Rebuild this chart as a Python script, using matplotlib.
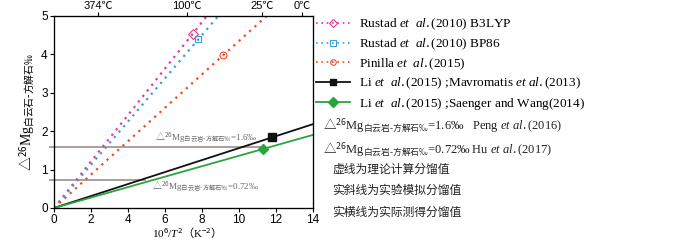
"""Mg isotope fractionation between dolomite and calcite vs 10^6/T^2."""
import matplotlib
matplotlib.use("Agg")
import matplotlib.pyplot as plt
from matplotlib.lines import Line2D
import numpy as np

plt.rcParams["font.family"] = ["Liberation Serif", "Noto Sans CJK SC", "DejaVu Sans"]
plt.rcParams["mathtext.fontset"] = "custom"
plt.rcParams["mathtext.rm"] = "Noto Sans CJK SC"
plt.rcParams["mathtext.it"] = "Liberation Serif:italic"
plt.rcParams["mathtext.bf"] = "Liberation Serif:bold"

DELTA = r"$\mathrm{△}^{26}$Mg"

# theoretical (dotted) lines: slope of delta vs 10^6/T^2, plus marker point
theory_labels = [
    r"Rustad $\it{et\ \ al.}$(2010) B3LYP",
    r"Rustad $\it{et\ \ al.}$(2010) BP86",
    r"Pinilla $\it{et\ \ al.}$(2015)",
]
theory_slopes = [0.605, 0.563, 0.435]
theory_marker_x = [7.5, 7.8, 9.15]
theory_colors = ["#e8358f", "#3b9fd6", "#f04a25"]
theory_markers = ["D", "s", "o"]

# experimental (solid) lines
exp_labels = [
    r"Li $\it{et\ \ al.}$(2015) ;Mavromatis $\it{et\ al.}$(2013)",
    r"Li $\it{et\ \ al.}$(2015) ;Saenger and Wang(2014)",
]
exp_slopes = [0.156, 0.136]
exp_marker_x = [11.77, 11.28]
exp_colors = ["#111111", "#2aa43c"]
exp_markers = ["s", "D"]

# measured values (horizontal lines)
measured_vals = [1.6, 0.72]
measured_xmax = [11.2, 4.9]
measured_text = [
    DELTA + r"$_{\mathrm{白云岩\text{-}方解石‰}}$=1.6‰",
    DELTA + r"$_{\mathrm{白云岩\text{-}方解石‰}}$=0.72‰",
]
measured_text_xy = [(5.45, 1.66), (5.3, 0.57)]

top_temps_c = [374, 100, 25, 0]

notes = [
    DELTA + r"$_{\mathrm{白云岩\text{-}方解石‰}}$=1.6‰   Peng $\it{et\ al.}$(2016)",
    DELTA + r"$_{\mathrm{白云岩\text{-}方解石‰}}$=0.72‰ Hu $\it{et\ al.}$(2017)",
    "虚线为理论计算分馏值",
    "实斜线为实验模拟分馏值",
    "实横线为实际测得分馏值",
]

fig = plt.figure(figsize=(7, 2.4), dpi=100)
ax = fig.add_axes([54 / 700, 32 / 240, 259 / 700, 192 / 240])

handles = []
for lab, k, mx, c, m in zip(theory_labels, theory_slopes, theory_marker_x,
                            theory_colors, theory_markers):
    xs = np.array([0.0, 5.0 / k])
    ax.plot(xs, k * xs, color=c, ls=(0, (1, 2.2)), lw=1.6)
    ax.plot([mx], [k * mx], marker=m, ms=5, mfc="none", mec=c, mew=0.8, ls="none")
    handles.append(Line2D([], [], color=c, ls=(0, (1, 2.2)), lw=1.2,
                          marker=m, ms=4, mfc="none", mec=c, mew=0.8, label=lab))

for lab, k, mx, c, m in zip(exp_labels, exp_slopes, exp_marker_x,
                            exp_colors, exp_markers):
    xs = np.array([0.0, 14.0])
    ax.plot(xs, k * xs, color=c, lw=1.3)
    ax.plot([mx], [k * mx], marker=m, ms=5.5, color=c, ls="none")
    handles.append(Line2D([], [], color=c, lw=1.3, marker=m, ms=5, label=lab))

for v, xm, txt, (tx, ty) in zip(measured_vals, measured_xmax, measured_text,
                                measured_text_xy):
    ax.plot([-0.2, xm], [v, v], color="#a09893", lw=1.3, clip_on=False, zorder=1)
    ax.text(tx, ty, txt, fontsize=6.5, color="#6a6a6a", va="bottom" if v > 1 else "center")

ax.set_xlim(0, 14)
ax.set_ylim(0, 5)
ax.set_xticks(np.arange(0, 15, 2))
ax.set_yticks(np.arange(0, 6, 1))
for lbl in ax.get_xticklabels() + ax.get_yticklabels():
    lbl.set_family(["Liberation Sans"])
ax.tick_params(labelsize=8.5, length=3, width=0.8, pad=1.5)
for s in ax.spines.values():
    s.set_linewidth(0.9)
    s.set_color("#222222")
ax.set_xlabel(r"10$^{6}$/$\it{T}^{2}$$\mathrm{（}$K$^{-2}$$\mathrm{）}$", fontsize=8, labelpad=0)
ax.set_ylabel(DELTA + r"$_{\mathrm{白云石\text{-}方解石‰}}$", fontsize=10, labelpad=2)

top = ax.twiny()
top.set_xlim(ax.get_xlim())
top.set_xticks([1e6 / (t + 273.15) ** 2 for t in top_temps_c])
top.set_xticklabels([f"{t}℃" for t in top_temps_c], family=["Liberation Sans", "Noto Sans CJK SC"])
top.tick_params(labelsize=8, length=3, width=0.8, pad=0.5)

fig.legend(handles=handles, loc="upper left", bbox_to_anchor=(313 / 700, 1 - 14 / 240),
           frameon=False, fontsize=9.5, handlelength=2.6, handletextpad=0.7,
           labelspacing=0.33, borderaxespad=0, borderpad=0.2)

note_y = [126, 150, 170, 191, 213]
note_x = [323, 323, 332, 332, 332]
for txt, x, y in zip(notes, note_x, note_y):
    fs = 9 if txt.startswith("$") else 8.5
    fig.text(x / 700, 1 - y / 240, txt, fontsize=fs, va="center", color="#222222")

fig.savefig("out.png", dpi=100)
